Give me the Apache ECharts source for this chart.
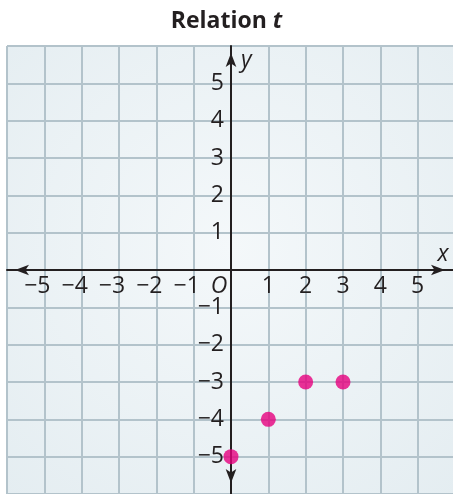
<!DOCTYPE html>
<html>
<head>
<meta charset="utf-8">
<script src="https://cdn.jsdelivr.net/npm/echarts@6/dist/echarts.min.js"></script>
<style>
  html, body {margin: 0; padding: 0; background: #fff;}
  #chart {width: 453px; height: 494px;}
</style>
</head>
<body>
<div id="chart"></div>
<script>
const pointX = [0, 1, 2, 3];
const pointY = [-5, -4, -3, -3];
const axisMin = -6;
const axisMax = 6;
const labelMax = 5;

const ink = '#231f20';
const font = 'Open Sans';
const gridSize = 448;

const minus = (v) => (v < 0 ? '\u2212' + (-v) : String(v));

const chart = echarts.init(document.getElementById('chart'));

// axes sit on zero: shift them from the grid edge by half the grid
const axisShift = -gridSize * (0 - axisMin) / (axisMax - axisMin);

chart.setOption({
    animation: false,
    backgroundColor: '#ffffff',
    title: {
        text: 'Relation {i|t}',
        left: 'center',
        top: 5,
        textStyle: {
            fontFamily: font,
            fontWeight: 'bold',
            fontSize: 23,
            color: ink,
            rich: {
                i: {fontFamily: font, fontWeight: 'bold', fontStyle: 'italic', fontSize: 23, color: ink}
            }
        }
    },
    grid: {
        left: 7,
        top: 46,
        width: gridSize,
        height: gridSize,
        containLabel: false,
        outerBoundsMode: 'none',
        show: true,
        borderWidth: 0,
        backgroundColor: {
            type: 'radial', x: 0.5, y: 0.45, r: 0.75,
            colorStops: [
                {offset: 0, color: '#f4f8fa'},
                {offset: 1, color: '#e4edf1'}
            ]
        }
    },
    xAxis: {
        type: 'value',
        position: 'bottom',
        offset: axisShift,
        min: axisMin,
        max: axisMax,
        interval: 1,
        name: 'x',
        nameLocation: 'end',
        nameGap: -12,
        nameTextStyle: {
            fontFamily: font, fontStyle: 'italic', fontSize: 23, color: ink,
            align: 'center', verticalAlign: 'bottom', lineHeight: 22, padding: [0, 0, 5, 0]
        },
        axisLine: {
            onZero: false,
            symbol: ['arrow', 'arrow'],
            symbolSize: [8, 14],
            symbolOffset: [8, -10],
            lineStyle: {color: ink, width: 2}
        },
        axisTick: {show: false},
        axisLabel: {
            margin: 5,
            fontFamily: font,
            fontSize: 23,
            lineHeight: 22,
            color: ink,
            showMinLabel: false,
            showMaxLabel: false,
            formatter(v) {
                if (Math.abs(v) > labelMax) return '';
                if (v === 0) return '{o|O}';
                if (v < 0) return '{n|' + minus(v) + '}';
                return String(v);
            },
            rich: {
                o: {fontFamily: font, fontStyle: 'italic', fontSize: 23, color: ink, padding: [0, 24, 0, 0]},
                n: {fontFamily: font, fontSize: 23, color: ink, padding: [0, 14, 0, 0]}
            }
        },
        splitLine: {show: true, lineStyle: {color: '#b3c3cb', width: 2}}
    },
    yAxis: {
        type: 'value',
        position: 'left',
        offset: axisShift,
        min: axisMin,
        max: axisMax,
        interval: 1,
        name: 'y',
        nameLocation: 'end',
        nameGap: -14,
        nameTextStyle: {
            fontFamily: font, fontStyle: 'italic', fontSize: 23, color: ink,
            align: 'left', verticalAlign: 'middle', lineHeight: 22, padding: [0, 0, 0, 10]
        },
        axisLine: {
            onZero: false,
            symbol: ['arrow', 'arrow'],
            symbolSize: [8, 14],
            symbolOffset: [11, -7],
            lineStyle: {color: ink, width: 2}
        },
        axisTick: {show: false},
        axisLabel: {
            margin: 7,
            fontFamily: font,
            fontSize: 23,
            lineHeight: 22,
            color: ink,
            padding: [5, 0, 0, 0],
            showMinLabel: false,
            showMaxLabel: false,
            formatter(v) {
                if (v === 0 || Math.abs(v) > labelMax) return '';
                return minus(v);
            }
        },
        splitLine: {show: true, lineStyle: {color: '#b3c3cb', width: 2}}
    },
    series: [{
        type: 'scatter',
        data: pointX.map((x, i) => [x, pointY[i]]),
        symbolSize: 15,
        itemStyle: {color: '#e6007e'},
        z: 5
    }]
});
</script>
</body>
</html>
